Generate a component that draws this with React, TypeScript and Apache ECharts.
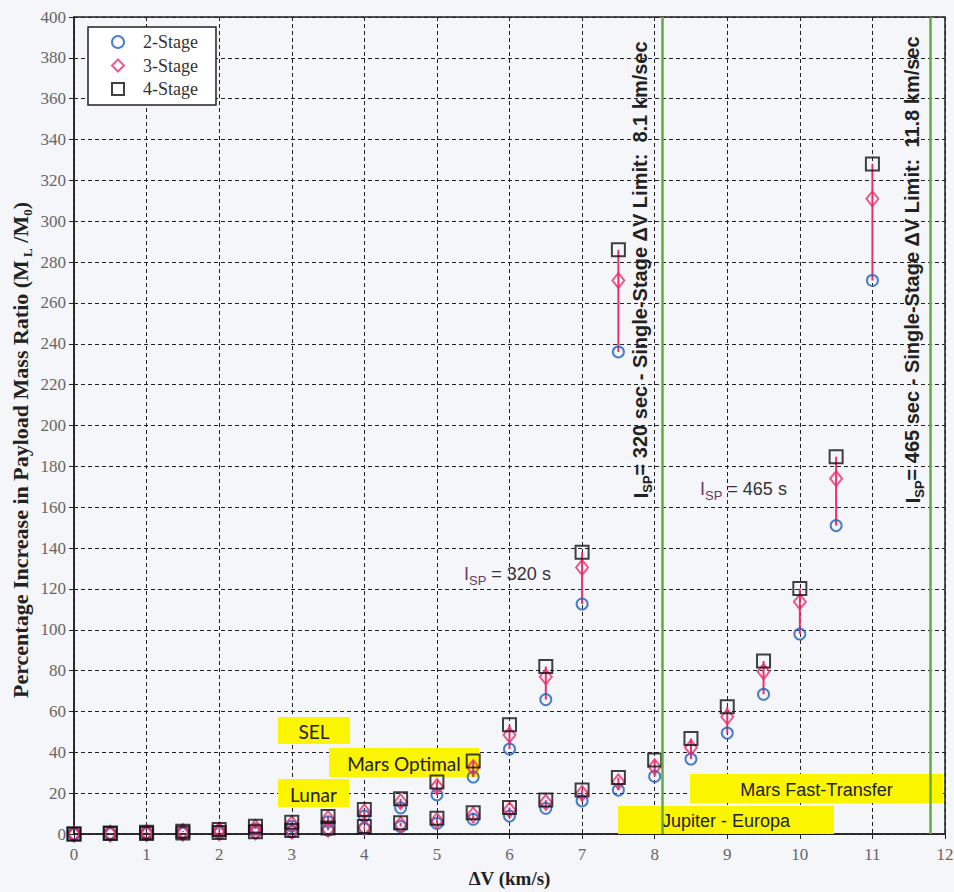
import React, { useEffect, useRef } from "react";
import * as echarts from "echarts";

// ΔV grid (km/s) for each specific impulse
const dv320 = [0, 0.5, 1, 1.5, 2, 2.5, 3, 3.5, 4, 4.5, 5, 5.5, 6, 6.5, 7, 7.5];
const twoStage320 = [0, 0.3, 0.6, 0.9, 1.4, 2.4, 3.8, 6.0, 8.8, 12.8, 19.2, 27.9, 41.6, 65.8, 112.6, 236];
const threeStage320 = [0, 0.4, 0.8, 1.2, 1.9, 3.3, 5.0, 7.6, 10.8, 15.8, 23.2, 32.5, 48.5, 77.0, 130.5, 271];
const fourStage320 = [0, 0.5, 0.9, 1.4, 2.2, 3.8, 5.8, 8.6, 12.0, 17.2, 25.4, 35.8, 53.5, 82.0, 138.0, 286];

const dv465 = [0, 0.5, 1, 1.5, 2, 2.5, 3, 3.5, 4, 4.5, 5, 5.5, 6, 6.5, 7, 7.5, 8, 8.5, 9, 9.5, 10, 10.5, 11];
const twoStage465 = [0, 0.1, 0.2, 0.3, 0.5, 0.8, 1.2, 1.9, 2.6, 3.6, 5.2, 7.2, 8.8, 12.6, 16.2, 21.5, 28.2, 36.7, 49.4, 68.4, 97.9, 151, 271];
const threeStage465 = [0, 0.1, 0.2, 0.4, 0.6, 1.0, 1.5, 2.4, 3.2, 4.6, 6.6, 9.3, 11.8, 15.5, 19.9, 25.6, 32.9, 42.3, 57.4, 79.5, 113.7, 174, 311];
const fourStage465 = [0, 0.2, 0.3, 0.5, 0.7, 1.1, 1.7, 2.9, 3.7, 5.5, 7.7, 10.4, 13.0, 16.6, 21.5, 27.7, 36.2, 46.7, 62.3, 84.7, 120.2, 184.7, 328];

// Single-stage ΔV limits (km/s)
const singleStageLimits = [8.1, 11.8];

// Axis ranges
const xMin = 0, xMax = 12, xStep = 1;
const yMin = 0, yMax = 400, yStep = 20;

const legendNames = ["2-Stage", "3-Stage", "4-Stage"];

const SERIF = "Liberation Serif";
const SANS = "Liberation Sans";
const TAG_FONT = "Lato";

const BLUE = "#1f5fc0";
const PINK = "#e8306a";
const BLACK = "#111111";
const YELLOW = "#fbf500";

const zip = (xs: number[], ys: number[]) => xs.map((x, i) => [x, ys[i]]);
const spans = (xs: number[], lo: number[], hi: number[]) => xs.map((x, i) => [x, lo[i], hi[i]]);

function stageSeries(name: string, data: number[][], symbol: string, size: any, color: string) {
  return {
    name,
    type: "scatter",
    data,
    symbol,
    symbolSize: size,
    z: 4,
    itemStyle: { color: "rgba(255,255,255,0)", borderColor: color, borderWidth: 2 },
    emphasis: { disabled: true },
  };
}

function connector(id: string, data: number[][]) {
  return {
    id,
    type: "custom",
    z: 3,
    silent: true,
    data,
    encode: { x: 0, y: [1, 2] },
    renderItem: (_p: any, api: any) => {
      const a = api.coord([api.value(0), api.value(1)]);
      const b = api.coord([api.value(0), api.value(2)]);
      return {
        type: "line",
        shape: { x1: a[0], y1: a[1], x2: b[0], y2: b[1] },
        style: { stroke: PINK, lineWidth: 2 },
      };
    },
  };
}

function yellowTag(x: number, y: number, w: number, h: number, text: string, font: string, size: number) {
  return {
    type: "group",
    z: 1,
    children: [
      { type: "rect", shape: { x, y, width: w, height: h }, style: { fill: YELLOW }, z: 1 },
      {
        type: "text",
        z: 1,
        x: x + w / 2,
        y: y + h / 2 + 1,
        style: { text, fill: "#222", fontFamily: font, fontSize: size, align: "center", verticalAlign: "middle" },
      },
    ],
  };
}

function rotatedLimitLabel(x: number, y: number, body: string) {
  return {
    type: "text",
    z: 5,
    x,
    y,
    rotation: Math.PI / 2,
    style: {
      text: `{i|I}{s|SP}{t|${body}}`,
      align: "center",
      verticalAlign: "middle",
      rich: {
        i: { fontFamily: SANS, fontWeight: "bold", fontSize: 21, lineHeight: 28, fill: "#222" },
        s: { fontFamily: SANS, fontWeight: "bold", fontSize: 13, lineHeight: 16, verticalAlign: "bottom", fill: "#222" },
        t: { fontFamily: SANS, fontWeight: "bold", fontSize: 20, lineHeight: 28, fill: "#222" },
      },
    },
  };
}

function ispLabel(x: number, y: number, body: string) {
  return {
    type: "text",
    z: 5,
    x,
    y,
    style: {
      text: `{i|I}{s|SP}{t|${body}}`,
      align: "left",
      verticalAlign: "middle",
      rich: {
        i: { fontFamily: SANS, fontSize: 18, lineHeight: 26, fill: "#6a3a66" },
        s: { fontFamily: SANS, fontSize: 13, lineHeight: 14, verticalAlign: "bottom", fill: "#6a3a66" },
        t: { fontFamily: SANS, fontSize: 18, lineHeight: 26, fill: "#333" },
      },
    },
  };
}

export default function App() {
  const ref = useRef<HTMLDivElement>(null);

  useEffect(() => {
    document.body.style.margin = "0";
    if (!ref.current) return;
    const chart = echarts.init(ref.current, undefined, { renderer: "svg" });

    const option: any = {
      animation: false,
      backgroundColor: "#f5f6f9",
      grid: {
        left: 74,
        right: 9,
        top: 17,
        bottom: 58,
        containLabel: false,
        outerBoundsMode: "none",
        show: true,
        borderColor: "#222",
        borderWidth: 1.5,
        backgroundColor: "transparent",
      },
      legend: {
        data: legendNames,
        orient: "vertical",
        left: 88,
        top: 27,
        itemWidth: 12,
        itemHeight: 12,
        itemGap: 5.5,
        padding: [6, 18, 7, 23],
        backgroundColor: "#ffffff",
        borderColor: "#222",
        borderWidth: 1.5,
        borderRadius: 0,
        selectedMode: false,
        textStyle: { fontFamily: SERIF, fontSize: 18, color: "#333", padding: [0, 0, 0, 14] },
      },
      xAxis: {
        type: "value",
        min: xMin,
        max: xMax,
        interval: xStep,
        name: "ΔV (km/s)",
        nameLocation: "middle",
        nameGap: 35,
        nameTextStyle: { fontFamily: SERIF, fontWeight: "bold", fontSize: 19, color: "#222" },
        axisLine: { onZero: false, lineStyle: { color: "#222", width: 1.5 } },
        axisTick: { show: true, length: 5, lineStyle: { color: "#222" } },
        axisLabel: { fontFamily: SERIF, fontSize: 17, color: "#666", margin: 12 },
        splitLine: { show: true, lineStyle: { color: "#222", type: [4, 3], width: 1 } },
      },
      yAxis: {
        type: "value",
        min: yMin,
        max: yMax,
        interval: yStep,
        axisLine: { show: true, lineStyle: { color: "#222", width: 1.5 } },
        axisTick: { show: true, length: 5, lineStyle: { color: "#222" } },
        axisLabel: { fontFamily: SERIF, fontSize: 17, color: "#666", margin: 8 },
        splitLine: { show: true, lineStyle: { color: "#222", type: [4, 3], width: 1 } },
      },
      graphic: [
        yellowTag(278, 717, 72, 27, "SEL", TAG_FONT, 19),
        yellowTag(329, 748, 150, 29, "Mars Optimal", TAG_FONT, 19),
        yellowTag(278, 779, 71, 28, "Lunar", TAG_FONT, 19),
        yellowTag(690, 774, 253, 29, "Mars Fast-Transfer", SANS, 18),
        yellowTag(618, 806, 216, 28, "Jupiter - Europa", SANS, 18),
        rotatedLimitLabel(640, 270, "= 320 sec - Single-Stage ΔV Limit:  8.1 km/sec"),
        rotatedLimitLabel(912, 270, "= 465 sec - Single-Stage ΔV Limit:  11.8 km/sec"),
        ispLabel(464, 574, " = 320 s"),
        ispLabel(700, 489, " = 465 s"),
        {
          type: "text",
          z: 5,
          x: 20,
          y: 450,
          rotation: Math.PI / 2,
          style: {
            text: "{t|Percentage Increase in Payload Mass Ratio (M}{s| L}{t| /M}{s|0}{t|)}",
            align: "center",
            verticalAlign: "middle",
            rich: {
              t: { fontFamily: SERIF, fontWeight: "bold", fontSize: 22, lineHeight: 28, fill: "#222" },
              s: { fontFamily: SERIF, fontWeight: "bold", fontSize: 13, lineHeight: 15, verticalAlign: "bottom", fill: "#222" },
            },
          },
        },
      ],
      series: [
        connector("link320", spans(dv320, twoStage320, fourStage320)),
        connector("link465", spans(dv465, twoStage465, fourStage465)),
        stageSeries("2-Stage", zip(dv320, twoStage320), "circle", 11, BLUE),
        stageSeries("2-Stage", zip(dv465, twoStage465), "circle", 11, BLUE),
        stageSeries("3-Stage", zip(dv320, threeStage320), "diamond", [12, 15], PINK),
        stageSeries("3-Stage", zip(dv465, threeStage465), "diamond", [12, 15], PINK),
        stageSeries("4-Stage", zip(dv320, fourStage320), "rect", 13, BLACK),
        stageSeries("4-Stage", zip(dv465, fourStage465), "rect", 13, BLACK),
        {
          type: "line",
          data: [],
          silent: true,
          markLine: {
            silent: true,
            symbol: ["none", "none"],
            label: { show: false },
            lineStyle: { color: "#5fae3a", width: 2.5, type: "solid" },
            data: singleStageLimits.map((v) => ({ xAxis: v })),
          },
        },
      ],
    };

    chart.setOption(option);
    return () => chart.dispose();
  }, []);

  return (
    <div
      ref={ref}
      style={{ position: "fixed", left: 0, top: 0, width: 954, height: 892 }}
    />
  );
}
